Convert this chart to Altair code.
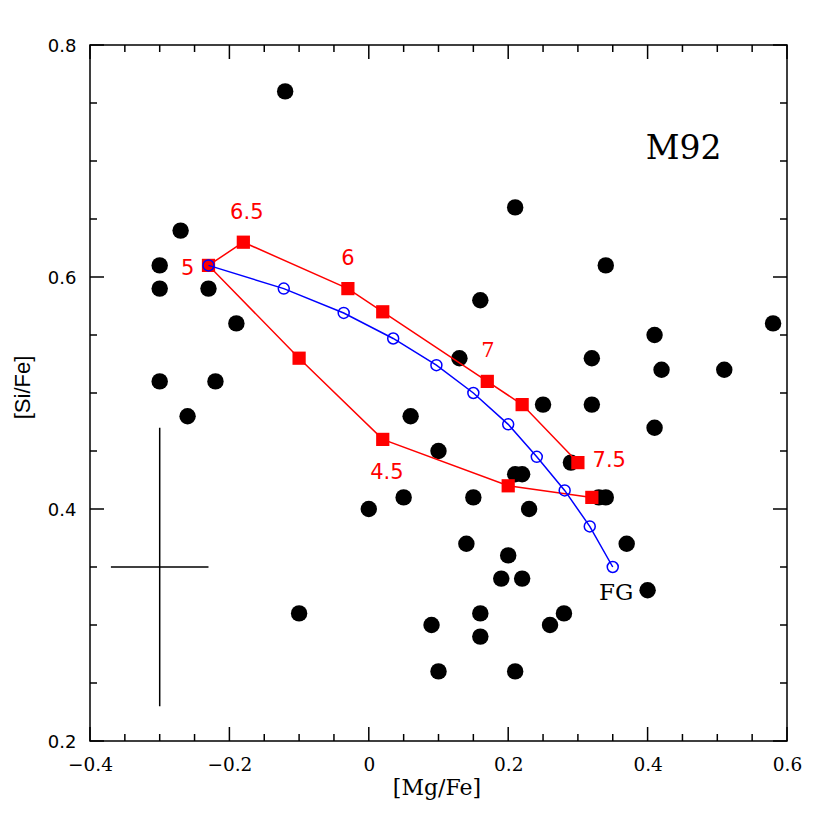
import altair as alt
import pandas as pd

# Observed stars
star_mg = [-0.12, -0.27, -0.30, -0.30, -0.23, -0.19, -0.30, -0.22, -0.26, -0.10,
           0.00, 0.06, 0.05, 0.10, 0.09, 0.10, 0.13, 0.16, 0.14, 0.15,
           0.21, 0.34, 0.58, 0.41, 0.32, 0.42, 0.51, 0.25, 0.32, 0.41,
           0.29, 0.21, 0.22, 0.33, 0.34, 0.23, 0.37, 0.20, 0.19, 0.22,
           0.40, 0.16, 0.28, 0.26, 0.16, 0.21]
star_si = [0.76, 0.64, 0.61, 0.59, 0.59, 0.56, 0.51, 0.51, 0.48, 0.31,
           0.40, 0.48, 0.41, 0.45, 0.30, 0.26, 0.53, 0.58, 0.37, 0.41,
           0.66, 0.61, 0.56, 0.55, 0.53, 0.52, 0.52, 0.49, 0.49, 0.47,
           0.44, 0.43, 0.43, 0.41, 0.41, 0.40, 0.37, 0.36, 0.34, 0.34,
           0.33, 0.31, 0.31, 0.30, 0.29, 0.26]

# Red model track (in path order)
red_mg = [0.32, 0.20, 0.02, -0.10, -0.23, -0.18, -0.03, 0.02, 0.17, 0.22, 0.30]
red_si = [0.41, 0.42, 0.46, 0.53, 0.61, 0.63, 0.59, 0.57, 0.51, 0.49, 0.44]

# Blue dilution track
blue_mg = [-0.23, -0.122, -0.036, 0.035, 0.097, 0.150, 0.200, 0.241, 0.281, 0.317, 0.350]
blue_si = [0.61, 0.590, 0.569, 0.547, 0.524, 0.500, 0.473, 0.445, 0.416, 0.385, 0.350]

# Red labels
rlab_text = ["6.5", "5", "6", "7.5", "4.5"]
rlab_mg = [-0.175, -0.260, -0.030, 0.345, 0.026]
rlab_si = [0.655, 0.6065, 0.6155, 0.4414, 0.431]
rlab7_text = ["7"]
rlab7_mg = [0.171]
rlab7_si = [0.5366]

# Other labels
note_text = ["M92", "FG"]
note_mg = [0.4516, 0.355]
note_si = [0.7103, 0.3276]

# Error bar
err_mg, err_si, err_dmg, err_dsi = -0.30, 0.35, 0.07, 0.12

# Ticks
x_major = [-0.4, -0.2, 0.0, 0.2, 0.4, 0.6]
x_minor = [-0.35, -0.3, -0.25, -0.15, -0.1, -0.05, 0.05, 0.1, 0.15, 0.25, 0.3, 0.35, 0.45, 0.5, 0.55]
y_major = [0.2, 0.4, 0.6, 0.8]
y_minor = [0.25, 0.3, 0.35, 0.45, 0.5, 0.55, 0.65, 0.7, 0.75]

W, H = 697, 696
MAJ, MIN = 14, 7

xs = alt.Scale(domain=[-0.4, 0.6], nice=False, zero=False)
ys = alt.Scale(domain=[0.2, 0.8], nice=False, zero=False)

xaxis = alt.Axis(values=x_major, ticks=False, domain=False, grid=False,
                 labelFont="DejaVu Serif", labelFontSize=18.5, labelPadding=14,
                 labelColor="black", labelOverlap=False, labelFlush=False,
                 labelExpr="datum.value == 0 ? '0' : format(datum.value, '.1f')",
                 title="[Mg/Fe]", titleFont="DejaVu Serif", titleFontSize=22,
                 titleFontWeight="normal", titleColor="black",
                 titleX=W / 2 - 2, titleY=46, titleBaseline="middle", titleAlign="center")
yaxis = alt.Axis(values=y_major, ticks=False, domain=False, grid=False,
                 labelFont="DejaVu Sans", labelFontSize=18, labelPadding=14,
                 labelColor="black", labelOverlap=False, labelFlush=False,
                 labelOffset=1.5, format=".1f",
                 title="[Si/Fe]", titleFont="Liberation Sans", titleFontSize=22,
                 titleFontWeight="normal", titleColor="black",
                 titleX=-68, titleY=H / 2 - 6, titleAngle=270,
                 titleBaseline="middle", titleAlign="center")

X = alt.X("x:Q", scale=xs, axis=xaxis)
Y = alt.Y("y:Q", scale=ys, axis=yaxis)

stars = pd.DataFrame({"x": star_mg, "y": star_si})
red = pd.DataFrame({"x": red_mg, "y": red_si, "o": list(range(len(red_mg)))})
blue = pd.DataFrame({"x": blue_mg, "y": blue_si, "o": list(range(len(blue_mg)))})
rlab = pd.DataFrame({"x": rlab_mg, "y": rlab_si, "t": rlab_text})
rlab7 = pd.DataFrame({"x": rlab7_mg, "y": rlab7_si, "t": rlab7_text})
notes = pd.DataFrame({"x": note_mg, "y": note_si, "t": note_text})
errv = pd.DataFrame({"x": [err_mg], "y": [err_si - err_dsi], "y2": [err_si + err_dsi]})
errh = pd.DataFrame({"x": [err_mg - err_dmg], "x2": [err_mg + err_dmg], "y": [err_si]})

star_layer = alt.Chart(stars).mark_circle(color="black", opacity=1, size=270).encode(x=X, y=Y)

red_line = alt.Chart(red).mark_line(color="#ff0000", strokeWidth=1.5).encode(x=X, y=Y, order="o:Q")
red_pts = alt.Chart(red).mark_square(color="#ff0000", opacity=1, size=175).encode(x=X, y=Y)

blue_line = alt.Chart(blue).mark_line(color="#0000ff", strokeWidth=1.5).encode(x=X, y=Y, order="o:Q")
blue_pts = alt.Chart(blue).mark_point(shape="circle", color="#0000ff", filled=False,
                                      strokeWidth=1.5, size=120, opacity=1).encode(x=X, y=Y)

rlab_layer = alt.Chart(rlab).mark_text(color="#ff0000", font="DejaVu Sans", fontSize=21,
                                       baseline="middle", align="center").encode(x=X, y=Y, text="t:N")
rlab7_layer = alt.Chart(rlab7).mark_text(color="#ff0000", font="DejaVu Serif", fontSize=21,
                                         baseline="middle", align="center").encode(x=X, y=Y, text="t:N")
m92 = alt.Chart(notes.iloc[[0]]).mark_text(color="black", font="DejaVu Serif", fontSize=33,
                                           baseline="middle", align="center").encode(x=X, y=Y, text="t:N")
fg = alt.Chart(notes.iloc[[1]]).mark_text(color="black", font="DejaVu Serif", fontSize=23,
                                          baseline="middle", align="center").encode(x=X, y=Y, text="t:N")

ev = alt.Chart(errv).mark_rule(color="black", strokeWidth=1.5).encode(x=X, y=Y, y2="y2:Q")
eh = alt.Chart(errh).mark_rule(color="black", strokeWidth=1.5).encode(x=X, x2="x2:Q", y=Y)

# Inward ticks on all four sides
xmaj = pd.DataFrame({"x": x_major})
xmin = pd.DataFrame({"x": x_minor})
ymaj = pd.DataFrame({"y": y_major})
ymin = pd.DataFrame({"y": y_minor})

def xt(df, L, top):
    if top:
        return alt.Chart(df).mark_rule(color="black", strokeWidth=1.5).encode(
            x=X, y=alt.value(0), y2=alt.value(L))
    return alt.Chart(df).mark_rule(color="black", strokeWidth=1.5).encode(
        x=X, y=alt.value(H), y2=alt.value(H - L))

def yt(df, L, right):
    if right:
        return alt.Chart(df).mark_rule(color="black", strokeWidth=1.5).encode(
            y=Y, x=alt.value(W), x2=alt.value(W - L))
    return alt.Chart(df).mark_rule(color="black", strokeWidth=1.5).encode(
        y=Y, x=alt.value(0), x2=alt.value(L))

ticks = [xt(xmaj, MAJ, False), xt(xmaj, MAJ, True), xt(xmin, MIN, False), xt(xmin, MIN, True),
         yt(ymaj, MAJ, False), yt(ymaj, MAJ, True), yt(ymin, MIN, False), yt(ymin, MIN, True)]

chart = alt.layer(
    star_layer, ev, eh, *ticks,
    red_line, red_pts, blue_line, blue_pts,
    rlab_layer, rlab7_layer, m92, fg,
).properties(
    width=W, height=H,
    padding={"left": 82, "top": 37, "right": 30, "bottom": 60},
    autosize=alt.AutoSizeParams(type="none"),
    background="white",
).configure_view(
    stroke="black", strokeWidth=1.5
)

chart.save("out.html", embed_options={"renderer": "svg", "actions": False})
